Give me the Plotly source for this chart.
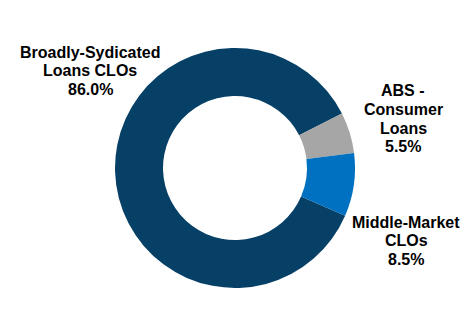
import plotly.graph_objects as go

labels = ["Broadly-Sydicated Loans CLOs", "ABS - Consumer Loans", "Middle-Market CLOs"]
label_lines = [["Broadly-Sydicated", "Loans CLOs"], ["ABS -", "Consumer", "Loans"], ["Middle-Market", "CLOs"]]
values = [86.0, 5.5, 8.5]
colors = ["#064066", "#A6A6A6", "#0070C0"]

W, H = 469, 333
cx, cy, r = 235, 168, 120

fig = go.Figure(go.Pie(
    labels=labels,
    values=values,
    hole=0.6,
    sort=False,
    direction="clockwise",
    rotation=113.4,
    marker=dict(colors=colors, line=dict(width=0)),
    textinfo="none",
    showlegend=False,
    domain=dict(x=[(cx - r) / W, (cx + r) / W], y=[(H - cy - r) / H, (H - cy + r) / H]),
))

# label block positions: (center x, first-line center y) in pixels
label_pos = [(90, 52), (403, 91), (406, 222)]
spacing = 18.5
for lines, v, (px, py) in zip(label_lines, values, label_pos):
    for i, t in enumerate(lines + [f"{v:.1f}%"]):
        fig.add_annotation(
            text=t,
            x=px / W, y=1 - (py + i * spacing) / H, xref="paper", yref="paper",
            xanchor="center", yanchor="middle", showarrow=False,
            font=dict(family="Liberation Sans, Arial", size=16, color="black", weight="bold"),
        )

fig.update_layout(
    width=W, height=H,
    margin=dict(l=0, r=0, t=0, b=0),
    paper_bgcolor="white", plot_bgcolor="white",
)
fig.write_html("out.html")
